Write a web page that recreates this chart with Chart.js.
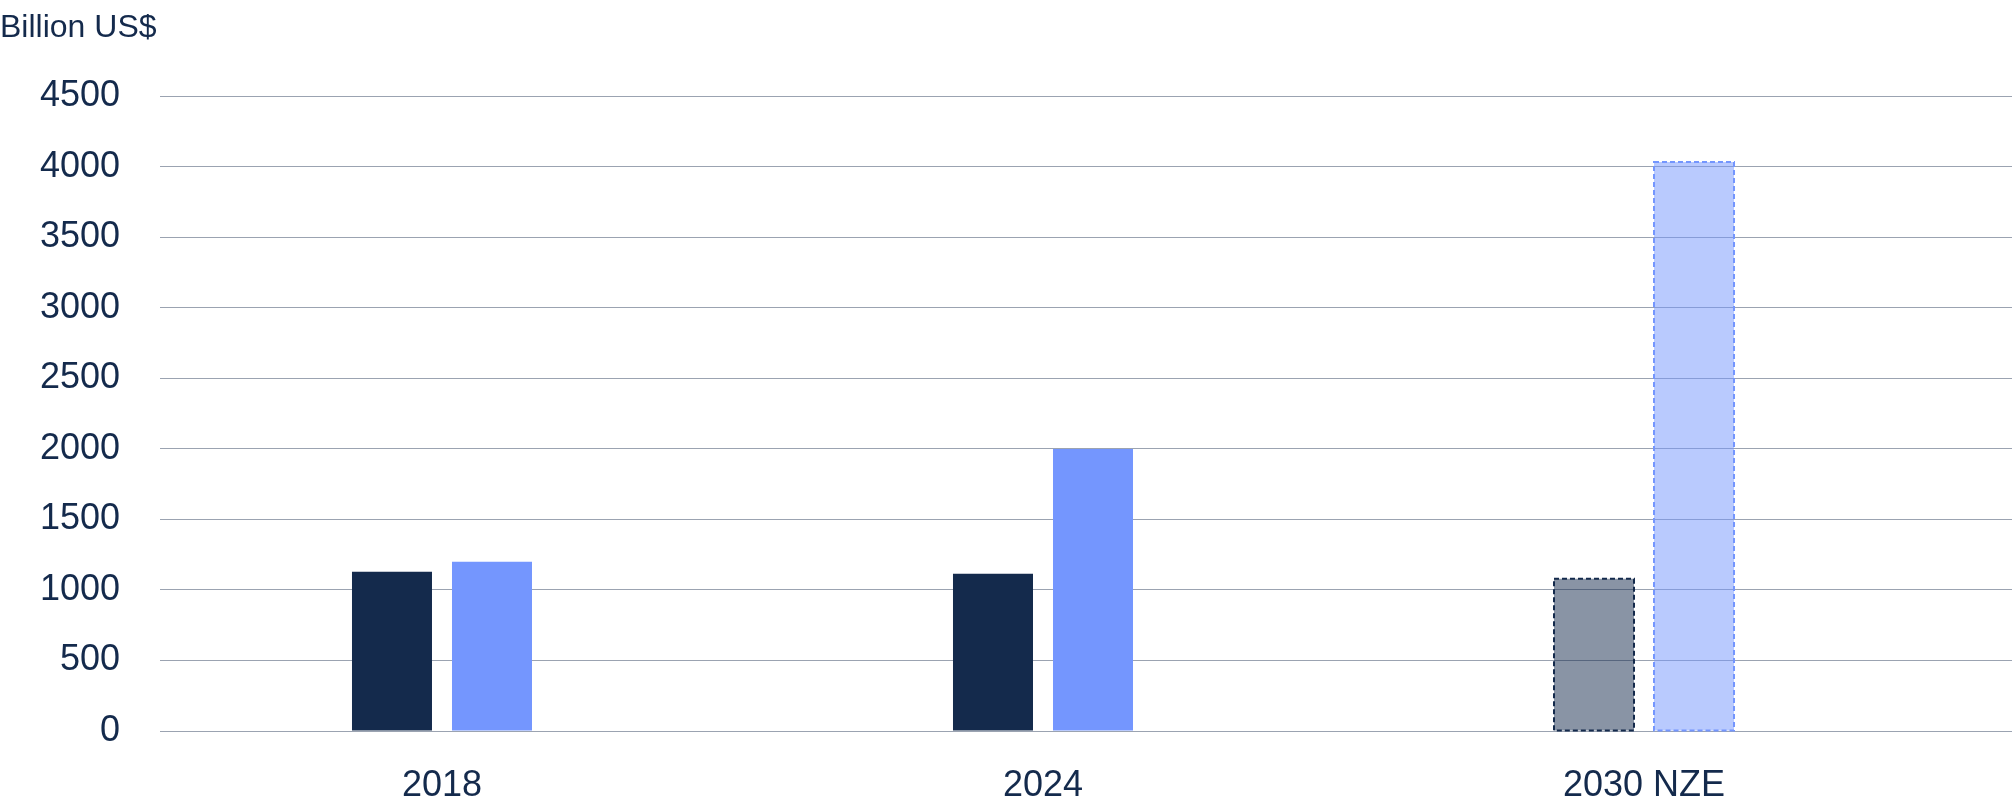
<!DOCTYPE html>
<html>
<head>
<meta charset="utf-8">
<script src="https://cdn.jsdelivr.net/npm/chart.js@4/dist/chart.umd.min.js"></script>
<style>
  html, body { margin: 0; padding: 0; background: #fff; overflow: hidden; }
  canvas { display: block; }
</style>
</head>
<body>
<canvas id="investChart" width="2012" height="812"></canvas>
<script>
const categories = ["2018", "2024", "2030 NZE"];
const fossilValues = [1130, 1115, 1080];
const cleanValues = [1200, 2000, 4035];
const yTicks = [0, 500, 1000, 1500, 2000, 2500, 3000, 3500, 4000, 4500];

const navy = "#142a4c";
const blue = "#7496fe";
const navyFaded = "rgba(20, 42, 76, 0.5)";
const blueFaded = "rgba(116, 150, 254, 0.5)";

// the last category is a scenario, drawn faded with a dashed outline
const dashedIndex = 2;

const dashedBorders = {
  id: "dashedBorders",
  afterDatasetsDraw(chart) {
    const ctx = chart.ctx;
    chart.data.datasets.forEach((ds, i) => {
      const bar = chart.getDatasetMeta(i).data[dashedIndex];
      if (!bar) return;
      const { x, y, base, width } = bar.getProps(["x", "y", "base", "width"], true);
      ctx.save();
      ctx.strokeStyle = ds.dashColor;
      ctx.lineWidth = 2;
      ctx.setLineDash([5, 3]);
      ctx.strokeRect(x - width / 2, y, width, base - y);
      ctx.restore();
    });
  }
};

const toPoints = (vals) => vals.map((v, i) => ({ x: i, y: v }));

new Chart(document.getElementById("investChart"), {
  type: "bar",
  data: {
    datasets: [
      {
        label: "Fossil fuels",
        data: toPoints(fossilValues),
        backgroundColor: fossilValues.map((v, i) => i === dashedIndex ? navyFaded : navy),
        dashColor: navy
      },
      {
        label: "Clean energy",
        data: toPoints(cleanValues),
        backgroundColor: cleanValues.map((v, i) => i === dashedIndex ? blueFaded : blue),
        dashColor: blue
      }
    ]
  },
  options: {
    responsive: false,
    animation: false,
    devicePixelRatio: 1,
    categoryPercentage: 0.3328,
    barPercentage: 0.8,
    layout: { padding: { left: 0, right: 0, top: 0, bottom: 8 } },
    plugins: {
      legend: { display: false },
      tooltip: { enabled: false },
      title: {
        display: true,
        text: "Billion US$",
        align: "start",
        color: navy,
        font: { family: "'Liberation Sans', Arial, sans-serif", size: 32, weight: "normal" },
        padding: { top: 9, bottom: 49 }
      }
    },
    scales: {
      x: {
        type: "linear",
        offset: false,
        bounds: "data",
        min: -0.4692,
        max: 2.6123,
        grid: { display: false, drawTicks: false, offset: false },
        border: { display: false },
        afterBuildTicks: (scale) => {
          scale.ticks = categories.map((c, i) => ({ value: i }));
        },
        afterFit: (scale) => { scale.height = 73; },
        ticks: {
          padding: 33,
          maxRotation: 0,
          color: navy,
          font: { family: "'Liberation Sans', Arial, sans-serif", size: 36 },
          callback: (v) => categories[v]
        }
      },
      y: {
        min: 0,
        max: 4500,
        afterBuildTicks: (scale) => {
          scale.ticks = yTicks.map((v) => ({ value: v }));
        },
        afterFit: (scale) => { scale.width = 160; },
        grid: { color: "#9ba3b1", lineWidth: 1, drawTicks: false },
        border: { display: false },
        ticks: {
          padding: 40,
          color: navy,
          font: { family: "'Liberation Sans', Arial, sans-serif", size: 36 },
          callback: (v) => String(v)
        }
      }
    }
  },
  plugins: [dashedBorders]
});
</script>
</body>
</html>
